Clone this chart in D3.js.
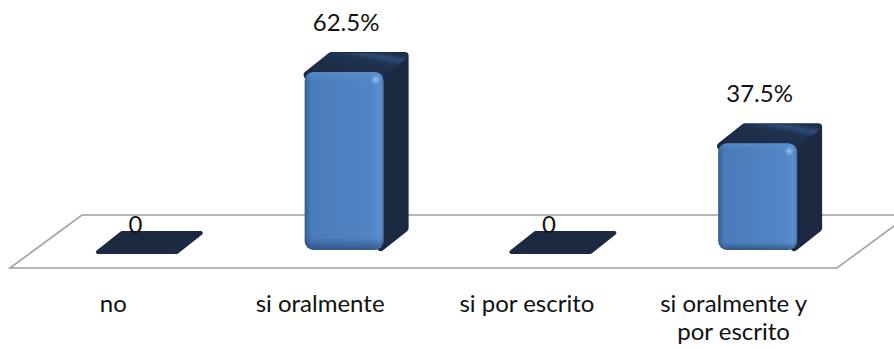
<!DOCTYPE html>
<html>
<head>
<meta charset="utf-8">
<script src="https://cdn.jsdelivr.net/npm/d3@7"></script>
<style>
  html, body { margin: 0; padding: 0; background: #fff; }
  svg { display: block; }
  text { font-family: Lato, "Open Sans", sans-serif; fill: #111; }
</style>
</head>
<body>
<svg id="chart" width="894" height="349"></svg>
<script>
// Chart data
const categories = ["no", "si oralmente", "si por escrito", "si oralmente y por escrito"];
const values = [0, 62.5, 0, 37.5];
const valueLabels = ["0", "62.5%", "0", "37.5%"];

const svg = d3.select("#chart");

// Floor geometry (front edge, depth vector)
const floorFront = { x0: 10, x1: 837, y: 268 };
const depth = { dx: 72, dy: -53 };
// Bars sit partway back on the floor
const barShift = { dx: 24, dy: -18 };
const barDepth = { dx: 24, dy: -19 };

const x = d3.scaleBand().domain(categories).range([floorFront.x0, floorFront.x1]).padding(0);
const y = d3.scaleLinear().domain([0, 70]).range([floorFront.y + barShift.dy, floorFront.y + barShift.dy - 70 * 2.85]);

const barW = 79;
const fontSize = 24;

const defs = svg.append("defs");
const g1 = defs.append("linearGradient").attr("id", "frontH").attr("x1", 0).attr("x2", 1).attr("y1", 0).attr("y2", 0);
g1.append("stop").attr("offset", 0).attr("stop-color", "#355f95");
g1.append("stop").attr("offset", 0.08).attr("stop-color", "#4a7cb9");
g1.append("stop").attr("offset", 0.85).attr("stop-color", "#5185c4");
g1.append("stop").attr("offset", 0.95).attr("stop-color", "#5a8fd0");
g1.append("stop").attr("offset", 1).attr("stop-color", "#4a7ab5");
const g2 = defs.append("linearGradient").attr("id", "frontV").attr("x1", 0).attr("x2", 0).attr("y1", 0).attr("y2", 1);
g2.append("stop").attr("offset", 0).attr("stop-color", "#6a9ad6").attr("stop-opacity", 0.35);
g2.append("stop").attr("offset", 0.06).attr("stop-color", "#6a9ad6").attr("stop-opacity", 0);
g2.append("stop").attr("offset", 0.93).attr("stop-color", "#1c3458").attr("stop-opacity", 0);
g2.append("stop").attr("offset", 1).attr("stop-color", "#1c3458").attr("stop-opacity", 0.55);
const g3 = defs.append("radialGradient").attr("id", "spec").attr("cx", 0.5).attr("cy", 0.5).attr("r", 0.5);
g3.append("stop").attr("offset", 0).attr("stop-color", "#9cc4f0").attr("stop-opacity", 0.9);
g3.append("stop").attr("offset", 1).attr("stop-color", "#9cc4f0").attr("stop-opacity", 0);
const g4 = defs.append("linearGradient").attr("id", "topFace").attr("x1", 0).attr("x2", 1).attr("y1", 1).attr("y2", 0);
g4.append("stop").attr("offset", 0).attr("stop-color", "#1b2a40");
g4.append("stop").attr("offset", 0.7).attr("stop-color", "#1f3250");
g4.append("stop").attr("offset", 0.85).attr("stop-color", "#2c4c74");
g4.append("stop").attr("offset", 1).attr("stop-color", "#1e3048");

// Floor parallelogram
const floorPts = [
  [floorFront.x0, floorFront.y],
  [floorFront.x1, floorFront.y],
  [floorFront.x1 + depth.dx, floorFront.y + depth.dy],
  [floorFront.x0 + depth.dx, floorFront.y + depth.dy]
];
svg.append("path")
  .attr("d", d3.line()(floorPts) + "Z")
  .attr("fill", "none")
  .attr("stroke", "#a0a0a0")
  .attr("stroke-width", 1.6);

const bars = svg.append("g");

categories.forEach((c, i) => {
  const v = values[i];
  const cx = x(c) + x.bandwidth() / 2 + barShift.dx;
  const x0 = cx - barW / 2, x1 = cx + barW / 2;
  const yb = y(0), yt = y(v);
  const g = bars.append("g");
  if (v === 0) {
    // flat slab for zero values
    const pts = [[x0, yb + 2], [x1, yb + 2], [x1 + barDepth.dx, yb + 2 + barDepth.dy], [x0 + barDepth.dx, yb + 2 + barDepth.dy]];
    g.append("path")
      .attr("d", d3.line()(pts) + "Z")
      .attr("fill", "#1b2a40")
      .attr("stroke", "#1b2a40")
      .attr("stroke-width", 4)
      .attr("stroke-linejoin", "round");
  } else {
    const r = 9;
    // dark silhouette: side and top faces
    const sil = [
      [x0 + 3, yt + 3],
      [x0 + 3 + barDepth.dx, yt + 3 + barDepth.dy],
      [x1 - 3 + barDepth.dx, yt + 3 + barDepth.dy],
      [x1 - 3 + barDepth.dx, yb - 3 + barDepth.dy],
      [x1 - 3, yb - 3]
    ];
    g.append("path")
      .attr("d", d3.line()(sil) + "Z")
      .attr("fill", "#1b2a40")
      .attr("stroke", "#1b2a40")
      .attr("stroke-width", 8)
      .attr("stroke-linejoin", "round");
    // top face with sheen
    const top = [
      [x0 + 3, yt + 3],
      [x0 + 3 + barDepth.dx, yt + 3 + barDepth.dy],
      [x1 - 3 + barDepth.dx, yt + 3 + barDepth.dy],
      [x1 - 3, yt + 3]
    ];
    g.append("path")
      .attr("d", d3.line()(top) + "Z")
      .attr("fill", "url(#topFace)")
      .attr("stroke", "url(#topFace)")
      .attr("stroke-width", 6)
      .attr("stroke-linejoin", "round");
    // front face
    g.append("rect")
      .attr("x", x0).attr("y", yt).attr("width", barW).attr("height", yb - yt)
      .attr("rx", r).attr("ry", r)
      .attr("fill", "url(#frontH)");
    g.append("rect")
      .attr("x", x0).attr("y", yt).attr("width", barW).attr("height", yb - yt)
      .attr("rx", r).attr("ry", r)
      .attr("fill", "url(#frontV)");
    g.append("ellipse")
      .attr("cx", x1 - 8).attr("cy", yt + 8).attr("rx", 5).attr("ry", 5)
      .attr("fill", "url(#spec)");
  }
  // value label
  svg.append("text")
    .attr("x", cx + (v === 0 ? -2 : 2))
    .attr("y", v === 0 ? yb - 17 : yt - 41)
    .attr("text-anchor", "middle")
    .attr("font-size", fontSize)
    .text(valueLabels[i]);
});

// Category labels, wrapped to the band width
const labelG = svg.append("g");
categories.forEach(c => {
  const lines = c === "si oralmente y por escrito" ? ["si oralmente y", "por escrito"] : [c];
  const t = labelG.append("text")
    .attr("text-anchor", "middle")
    .attr("font-size", fontSize);
  lines.forEach((ln, k) => {
    t.append("tspan")
      .attr("x", x(c) + x.bandwidth() / 2)
      .attr("y", 312 + k * 28)
      .text(ln);
  });
});
</script>
</body>
</html>
